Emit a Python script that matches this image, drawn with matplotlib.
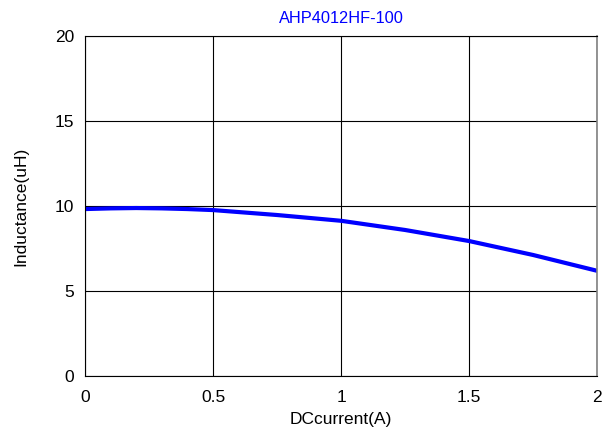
import matplotlib
matplotlib.use("Agg")
import matplotlib.pyplot as plt

# ----------------------------
# DATA
# ----------------------------
current = [0, 0.1, 0.2, 0.3, 0.4, 0.5, 0.75, 1.0, 1.25, 1.5, 1.75, 2.0]
inductance = [9.82, 9.86, 9.88, 9.86, 9.82, 9.76, 9.47, 9.13, 8.59, 7.94, 7.12, 6.19]

x_ticks = [0, 0.5, 1, 1.5, 2]
x_tick_labels = ["0", "0.5", "1", "1.5", "2"]
y_ticks = [0, 5, 10, 15, 20]

plt.rcParams["font.family"] = ["Liberation Sans", "DejaVu Sans"]
plt.rcParams["font.size"] = 12.5

fig = plt.figure(figsize=(6.05, 4.32), dpi=100)
ax = fig.add_axes([0.1405, 0.1296, 0.8463, 0.7871])

ax.plot(current, inductance, color="#0000ff", linewidth=3)

ax.set_xlim(0, 2)
ax.set_ylim(0, 20)
ax.set_xticks(x_ticks)
ax.set_xticklabels(x_tick_labels)
ax.set_yticks(y_ticks)
ax.tick_params(axis="x", length=0, pad=10)
ax.tick_params(axis="y", length=0, pad=8)
ax.grid(True, color="black", linewidth=0.8)

for s in ax.spines.values():
    s.set_color("black")
    s.set_linewidth(0.8)
ax.spines["right"].set_color("#808080")
ax.spines["right"].set_linewidth(1.2)

ax.set_xlabel("DCcurrent(A)", labelpad=5)
ax.set_ylabel("Inductance(uH)", labelpad=19)
ax.set_title("AHP4012HF-100", color="#0000ff", fontsize=11.8, pad=9)

fig.savefig("out.png", dpi=100)
